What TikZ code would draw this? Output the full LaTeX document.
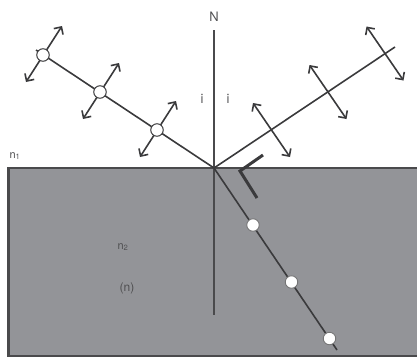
\documentclass[tikz,border=0pt]{standalone}
\usepackage{fontspec}
\setmainfont{TeX Gyre Heros}
\usetikzlibrary{arrows.meta,calc}
\definecolor{medium}{HTML}{939498}
\definecolor{edge}{HTML}{4A4A4C}
\definecolor{ray}{HTML}{3A3A3C}
\definecolor{txt}{HTML}{505052}
\tikzset{
  raystyle/.style={draw=ray,line width=1.6pt},
  dbl/.style={draw=ray,line width=1.6pt,{Straight Barb[length=5.5pt,width=11pt]}-{Straight Barb[length=5.5pt,width=11pt]}},
  dot/.style={circle,draw=ray,fill=white,line width=1pt,minimum size=12.5pt,inner sep=0pt},
  dotin/.style={circle,draw=ray!70!white,fill=white,line width=0.9pt,minimum size=12.5pt,inner sep=0pt},
  lab/.style={text=txt,font=\fontsize{13}{15}\selectfont,inner sep=0pt},
  sublab/.style={text=txt,font=\fontsize{11}{13}\selectfont,inner sep=0pt},
}
\begin{document}
\begin{tikzpicture}[x=1pt,y=-1pt]
\useasboundingbox (0,0) rectangle (417,357);
\begin{scope}
\clip (0,0) rectangle (417,357);
\fill[medium] (8,168) rectangle (425,356);
\draw[edge,line width=2pt] (425,168) -- (8,168) -- (8,356) -- (425,356);
\draw[edge,line width=3pt] (8,167) -- (8,357);
\end{scope}
\coordinate (O) at (214,168);
\coordinate (Ntop) at (214,30);
\coordinate (Nbot) at (214,315);
\coordinate (Iend) at (36,50);
\coordinate (Rend) at (395,47);
\coordinate (Tend) at (337,350);
% normal
\draw[draw=edge,line width=1.5pt] (Ntop) -- (Nbot);
% rays
\draw[raystyle] (Iend) -- (O);
\draw[raystyle] (O) -- (Rend);
\draw[raystyle] (O) -- (Tend);
% incident ray polarization
\coordinate (a1) at (43,55);
\coordinate (a2) at (100,92);
\coordinate (a3) at (157,130);
\foreach \p in {a1,a2,a3}{
  \draw[dbl] ($(\p)+(-17,27)$) -- ($(\p)+(19,-29)$);
}
\node[dot] (c1) at (a1) {};
\node[dot] (c2) at (a2) {};
\node[dot] (c3) at (a3) {};
% reflected ray polarization
\coordinate (r1) at (271.5,130);
\coordinate (r2) at (328,92);
\coordinate (r3) at (385,53.5);
\foreach \p in {r1,r2,r3}{
  \draw[dbl] ($(\p)+(-18.5,-27)$) -- ($(\p)+(18.5,27)$);
}
% refracted dots
\node[dotin] (t1) at (253,225) {};
\node[dotin] (t2) at (291.5,282) {};
\node[dotin] (t3) at (329.5,338.5) {};
% right-angle mark
\coordinate (m1) at (263,155);
\coordinate (m2) at (240,171);
\coordinate (m3) at (257,198);
\draw[draw=ray,line width=3pt] (m1) -- (m2) -- (m3);
% labels
\node[lab] (N) at (214,17) {N};
\node[lab] (i1) at (202,99) {i};
\node[lab] (i2) at (228,99) {i};
\node[sublab] (n1) at (15,156) {n\textsubscript{1}};
\node[sublab] (n2) at (123,247) {n\textsubscript{2}};
\node[lab,font=\fontsize{12}{14}\selectfont] (nn) at (127,288) {(n)};
\end{tikzpicture}
\end{document}
